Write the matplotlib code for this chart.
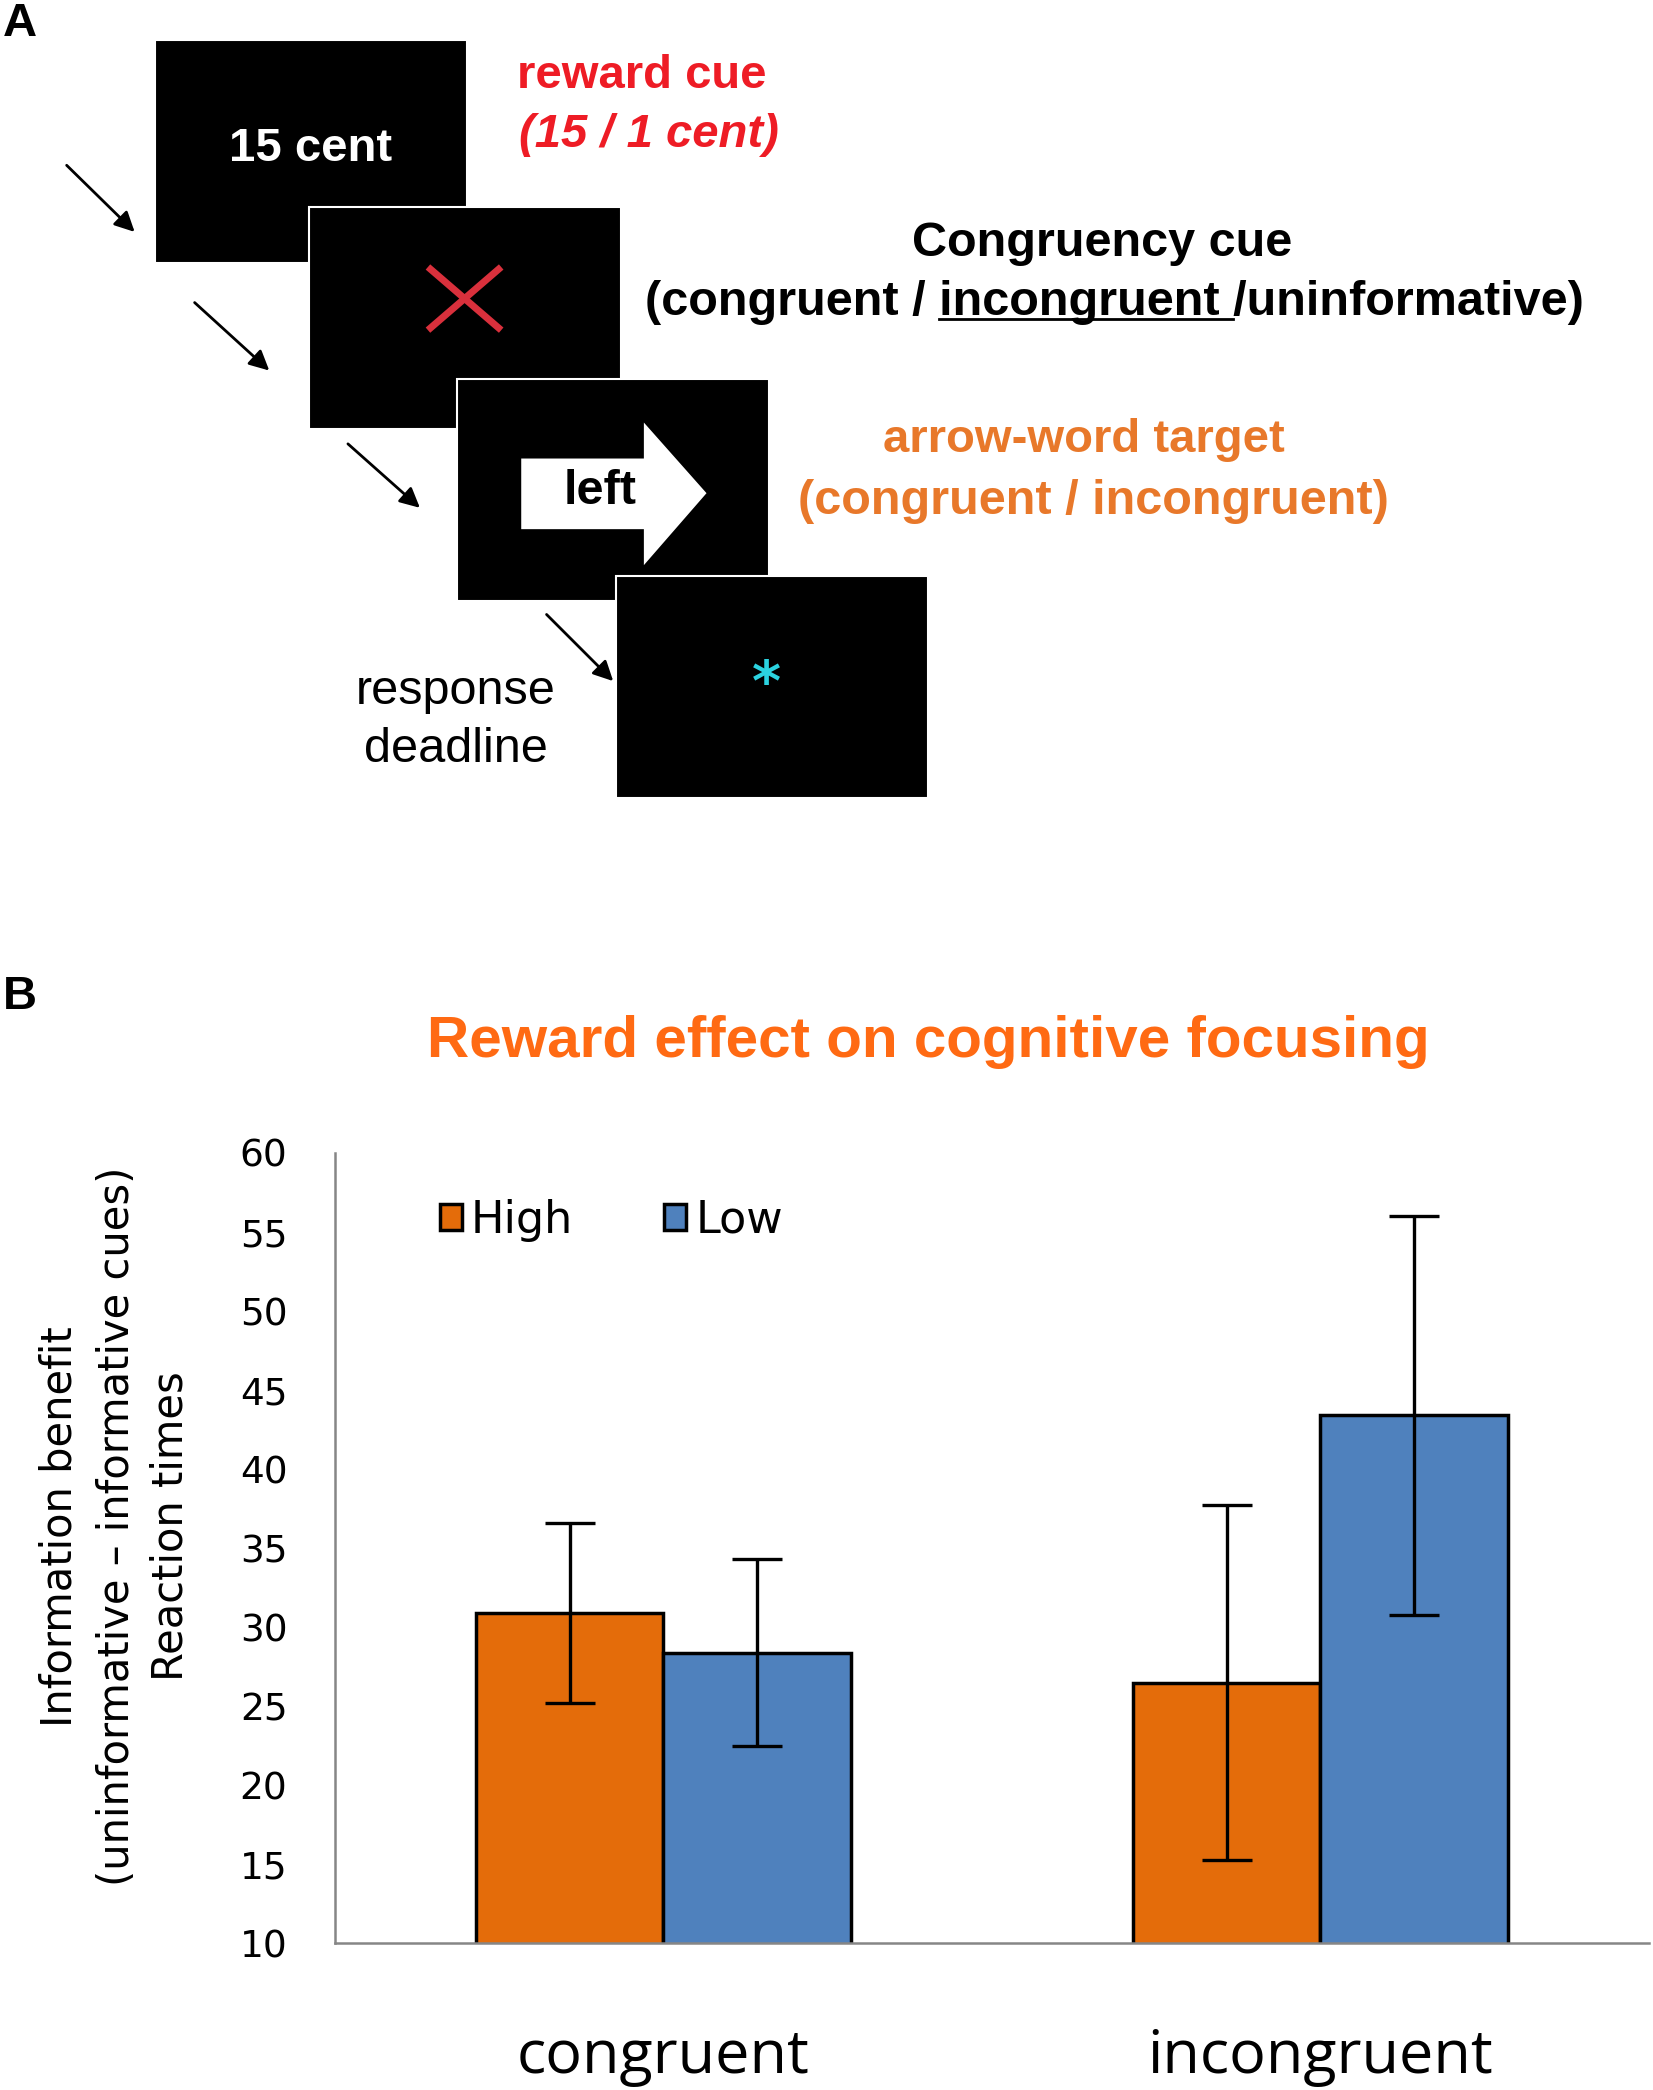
import matplotlib
matplotlib.use("Agg")
import matplotlib.pyplot as plt
from matplotlib.patches import Rectangle, Polygon
from matplotlib.lines import Line2D

# Data (panel B)
categories = ['congruent', 'incongruent']
series_names = ['High', 'Low']
high_vals = [30.9, 26.5]
low_vals = [28.4, 43.4]
high_err = [5.7, 11.2]
low_err = [5.9, 12.6]
y_ticks = [10, 15, 20, 25, 30, 35, 40, 45, 50, 55, 60]

ORANGE = '#E46C0A'
BLUE = '#4F81BD'
SANS = ['Liberation Sans', 'DejaVu Sans']

fig = plt.figure(figsize=(16.53, 20.90), dpi=100)

# ---------- Panel A: task schematic (drawn in 1240x1568 layout units) ----------
ax_a = fig.add_axes([0, 0, 1, 1])
ax_a.set_xlim(0, 1240)
ax_a.set_ylim(1568, 0)
ax_a.axis('off')
ax_a.patch.set_alpha(0)

screens = [(116, 30), (232, 155), (343, 284), (462, 432)]
for x0, y0 in screens:
    ax_a.add_patch(Rectangle((x0, y0), 234, 167, facecolor='black',
                             edgecolor='white', lw=1.5))

ax_a.text(233, 112, '15 cent', color='white', fontsize=34, fontweight='bold',
          family=SANS, ha='center', va='center')
ax_a.add_line(Line2D([323, 374], [202, 246], color='#D9303C', lw=5))
ax_a.add_line(Line2D([374, 323], [202, 246], color='#D9303C', lw=5))
ax_a.add_patch(Polygon([(391, 344), (483, 344), (483, 317), (530, 370),
                        (483, 424), (483, 397), (391, 397)],
                       closed=True, facecolor='white', edgecolor='none'))
ax_a.text(450, 369, 'left', color='black', fontsize=35, fontweight='bold',
          family=SANS, ha='center', va='center')
ax_a.text(575, 514, '*', color='#2BD3E0', fontsize=40, fontweight='bold',
          ha='center', va='center')

arrows = [((50, 124), (101, 174)), ((146, 227), (202, 278)),
          ((261, 333), (315, 381)), ((410, 461), (460, 511))]
for (xs, ys), (xe, ye) in arrows:
    ax_a.annotate('', xy=(xe, ye), xytext=(xs, ys),
                  arrowprops=dict(arrowstyle='-|>', color='black', lw=2,
                                  mutation_scale=30, shrinkA=0, shrinkB=0))

ax_a.text(388, 57, 'reward cue', color='#EE1C25', fontsize=34, fontweight='bold',
          family=SANS, ha='left', va='center')
ax_a.text(389, 101, '(15 / 1 cent)', color='#EE1C25', fontsize=34, fontweight='bold',
          style='italic', family=SANS, ha='left', va='center')

ax_a.text(827, 183, 'Congruency cue', color='black', fontsize=35, fontweight='bold',
          family=SANS, ha='center', va='center')
cue_kw = dict(color='black', fontsize=35, fontweight='bold', family=SANS,
              va='center')
cue_line = '(congruent / incongruent /uninformative)'
t_cue = ax_a.text(836, 227, cue_line, ha='center', **cue_kw)

ax_a.text(813, 330, 'arrow-word target', color='#E8782A', fontsize=34,
          fontweight='bold', family=SANS, ha='center', va='center')
ax_a.text(820, 376, '(congruent / incongruent)', color='#E8782A', fontsize=35,
          fontweight='bold', family=SANS, ha='center', va='center')

ax_a.text(342, 519, 'response', color='black', fontsize=35, family=SANS,
          ha='center', va='center')
ax_a.text(342, 562, 'deadline', color='black', fontsize=35, family=SANS,
          ha='center', va='center')

fig.text(15 / 1240, 1 - 18 / 1568, 'A', fontsize=34, fontweight='bold',
         family=SANS, ha='center', va='center')
fig.text(15 / 1240, 1 - 748 / 1568, 'B', fontsize=34, fontweight='bold',
         family=SANS, ha='center', va='center')

# ---------- Panel B: bar chart ----------
ax = fig.add_axes([251 / 1240, 1 - 1458 / 1568, 986 / 1240, 593 / 1568])
width = 0.285
xs = list(range(len(categories)))
ax.bar([x - width / 2 for x in xs], high_vals, width,
       color=ORANGE, edgecolor='black', linewidth=2.5, label=series_names[0],
       zorder=2)
ax.bar([x + width / 2 for x in xs], low_vals, width,
       color=BLUE, edgecolor='black', linewidth=2.5, label=series_names[1],
       zorder=2)
ax.errorbar([x - width / 2 for x in xs], high_vals, yerr=high_err, fmt='none',
            ecolor='black', elinewidth=2.4, capsize=18, capthick=2.4, zorder=3)
ax.errorbar([x + width / 2 for x in xs], low_vals, yerr=low_err, fmt='none',
            ecolor='black', elinewidth=2.4, capsize=18, capthick=2.4, zorder=3)

ax.set_xlim(-0.5, 1.5)
ax.set_ylim(10, 60)
ax.set_yticks(y_ticks)
ax.set_yticklabels([str(v) for v in y_ticks], fontsize=27, family='DejaVu Sans')
ax.set_xticks(xs)
ax.set_xticklabels(categories, fontsize=44, family='Open Sans')
ax.tick_params(axis='y', length=0, pad=34)
ax.tick_params(axis='x', length=0, pad=60)
for side in ['top', 'right']:
    ax.spines[side].set_visible(False)
for side in ['left', 'bottom']:
    ax.spines[side].set_color('#868686')
    ax.spines[side].set_linewidth(1.8)

ax.legend(loc='upper left', bbox_to_anchor=(0.08, 0.942), ncol=2, frameon=False,
          prop={'family': 'DejaVu Sans', 'size': 32}, handlelength=0.5,
          handleheight=0.5, handletextpad=0.2, columnspacing=2.05,
          borderpad=0, borderaxespad=0)

ylab = ['Information benefit', '(uninformative \u2013 informative cues)', 'Reaction times']
for xpos, line in zip([45, 88, 128], ylab):
    fig.text(xpos / 1240, 1 - 1145 / 1568, line, rotation=90, fontsize=30,
             family='DejaVu Sans', ha='center', va='center')

fig.text(696 / 1240, 1 - 782 / 1568, 'Reward effect on cognitive focusing',
         color='#FF6A13', fontsize=42, fontweight='bold', family=SANS,
         ha='center', va='center')

# underline "incongruent " in the congruency cue line
fig.canvas.draw()
renderer = fig.canvas.get_renderer()


def text_width(s):
    tmp = ax_a.text(0, 0, s, ha='left', **cue_kw)
    w = tmp.get_window_extent(renderer).width
    tmp.remove()
    return w


bb = t_cue.get_window_extent(renderer)
wx = text_width('X')
x_start = bb.x0 + text_width('(congruent / X') - wx
x_end = bb.x0 + text_width('(congruent / incongruent X') - wx
inv = ax_a.transData.inverted()
(ux0, uy), (ux1, _) = inv.transform([(x_start, bb.y0 + 6), (x_end, bb.y0 + 6)])
ax_a.add_line(Line2D([ux0, ux1], [uy, uy], color='black', lw=2))

fig.savefig('out.png', dpi=100, facecolor='white')
